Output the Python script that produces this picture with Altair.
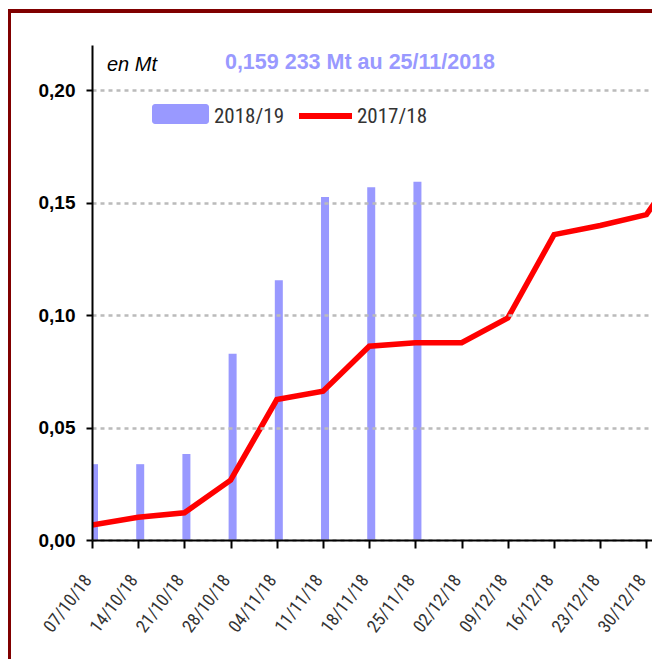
import json
import altair as alt
import pandas as pd

# ---- data ----
week_labels = ["07/10/18", "14/10/18", "21/10/18", "28/10/18", "04/11/18", "11/11/18",
               "18/11/18", "25/11/18", "02/12/18", "09/12/18", "16/12/18", "23/12/18",
               "30/12/18", "06/01/19"]
series_names = ["2018/19", "2017/18"]
values_1819 = [0.0337, 0.0337, 0.0382, 0.0828, 0.1154, 0.1524, 0.1568, 0.1592]
values_1718 = [0.0067, 0.0101, 0.0121, 0.0266, 0.0624, 0.0661, 0.0861, 0.0877,
               0.0877, 0.0987, 0.1357, 0.1398, 0.1446, 0.1744]
y_ticks = [0.0, 0.05, 0.10, 0.15, 0.20]
unit_label = "en Mt"
headline = "0,159 233 Mt au 25/11/2018"

# ---- layout / style ----
W, H = 560, 495
NARROW = "Liberation Sans Narrow, Roboto Condensed, Liberation Sans, sans-serif"
ARIAL = "Liberation Sans, Arial, sans-serif"
BAR_COLOR = "#9999FF"
LINE_COLOR = "#FF0000"

bars_df = pd.DataFrame({"week": list(range(len(values_1819))), "value": values_1819,
                        "serie": series_names[0]})
line_df = pd.DataFrame({"week": list(range(len(values_1718))), "value": values_1718,
                        "serie": series_names[1]})

label_array = json.dumps(week_labels)

x_enc = alt.X(
    "week:Q",
    scale=alt.Scale(domain=[0, 12.12], nice=False, zero=False),
    axis=alt.Axis(
        values=list(range(13)), title=None, grid=False,
        labelExpr=f"{label_array}[datum.value]",
        labelAngle=-53, labelAlign="right", labelBaseline="middle",
        labelPadding=29, labelOffset=-4,
        labelFont=NARROW, labelFontSize=18, labelColor="#333333",
        labelOverlap=False, labelBound=False, labelFlush=False,
        domainColor="black", domainWidth=2, tickColor="black", tickWidth=2,
        tickSize=8, zindex=1,
    ),
)
y_enc = alt.Y(
    "value:Q",
    scale=alt.Scale(domain=[0, 0.22], nice=False),
    axis=alt.Axis(
        values=y_ticks, title=None,
        labelExpr="replace(format(datum.value, '.2f'), '.', ',')",
        labelFont=ARIAL, labelFontSize=19, labelFontWeight="bold", labelColor="black",
        labelPadding=11,
        domainColor="black", domainWidth=2, tickColor="black", tickWidth=2, tickSize=6,
        grid=True, gridColor="#BBBBBB", gridDash=[4, 4], gridWidth=2.5, zindex=1,
    ),
)

bars = alt.Chart(bars_df).mark_rule(
    strokeWidth=8, xOffset=2, color=BAR_COLOR, clip=True, strokeCap="butt",
).encode(x=x_enc, y=y_enc, y2=alt.datum(0))

line = alt.Chart(line_df).mark_line(
    color=LINE_COLOR, strokeWidth=5.5, clip=True,
).encode(x=x_enc, y=y_enc)

one = pd.DataFrame({"k": [0]})

frame = alt.Chart(one).mark_rect(
    fillOpacity=0, stroke="#800000", strokeWidth=4, clip=False,
).encode(x=alt.value(-83), x2=alt.value(W + 60), y=alt.value(-34), y2=alt.value(H + 200))

unit_text = alt.Chart(one).mark_text(
    text=unit_label, font=ARIAL, fontSize=20, fontStyle="italic", color="black",
    align="left", baseline="middle",
).encode(x=alt.value(15), y=alt.value(20))

head_text = alt.Chart(one).mark_text(
    text=headline, font=ARIAL, fontSize=21.5, fontWeight="bold", color=BAR_COLOR,
    align="center", baseline="middle",
).encode(x=alt.value(268), y=alt.value(18))

leg_rect = alt.Chart(one).mark_rect(
    color=BAR_COLOR, cornerRadius=3,
).encode(x=alt.value(60), x2=alt.value(117), y=alt.value(59), y2=alt.value(79))

leg_rule = alt.Chart(one).mark_rule(
    color=LINE_COLOR, strokeWidth=6,
).encode(x=alt.value(207), x2=alt.value(260), y=alt.value(71))

leg_t1 = alt.Chart(one).mark_text(
    text=series_names[0], font=NARROW, fontSize=21, color="#333333",
    align="left", baseline="middle",
).encode(x=alt.value(122), y=alt.value(72))

leg_t2 = alt.Chart(one).mark_text(
    text=series_names[1], font=NARROW, fontSize=21, color="#333333",
    align="left", baseline="middle",
).encode(x=alt.value(265), y=alt.value(72))

chart = alt.layer(
    bars, line, unit_text, head_text, leg_rect, leg_rule, leg_t1, leg_t2, frame
).properties(
    width=W, height=H,
    autosize=alt.AutoSizeParams(type="none"),
    padding={"left": 84, "top": 37, "right": 0, "bottom": 119},
    background="white",
).configure_view(stroke=None)

chart.save("out.html", embed_options={"renderer": "svg", "actions": False})
